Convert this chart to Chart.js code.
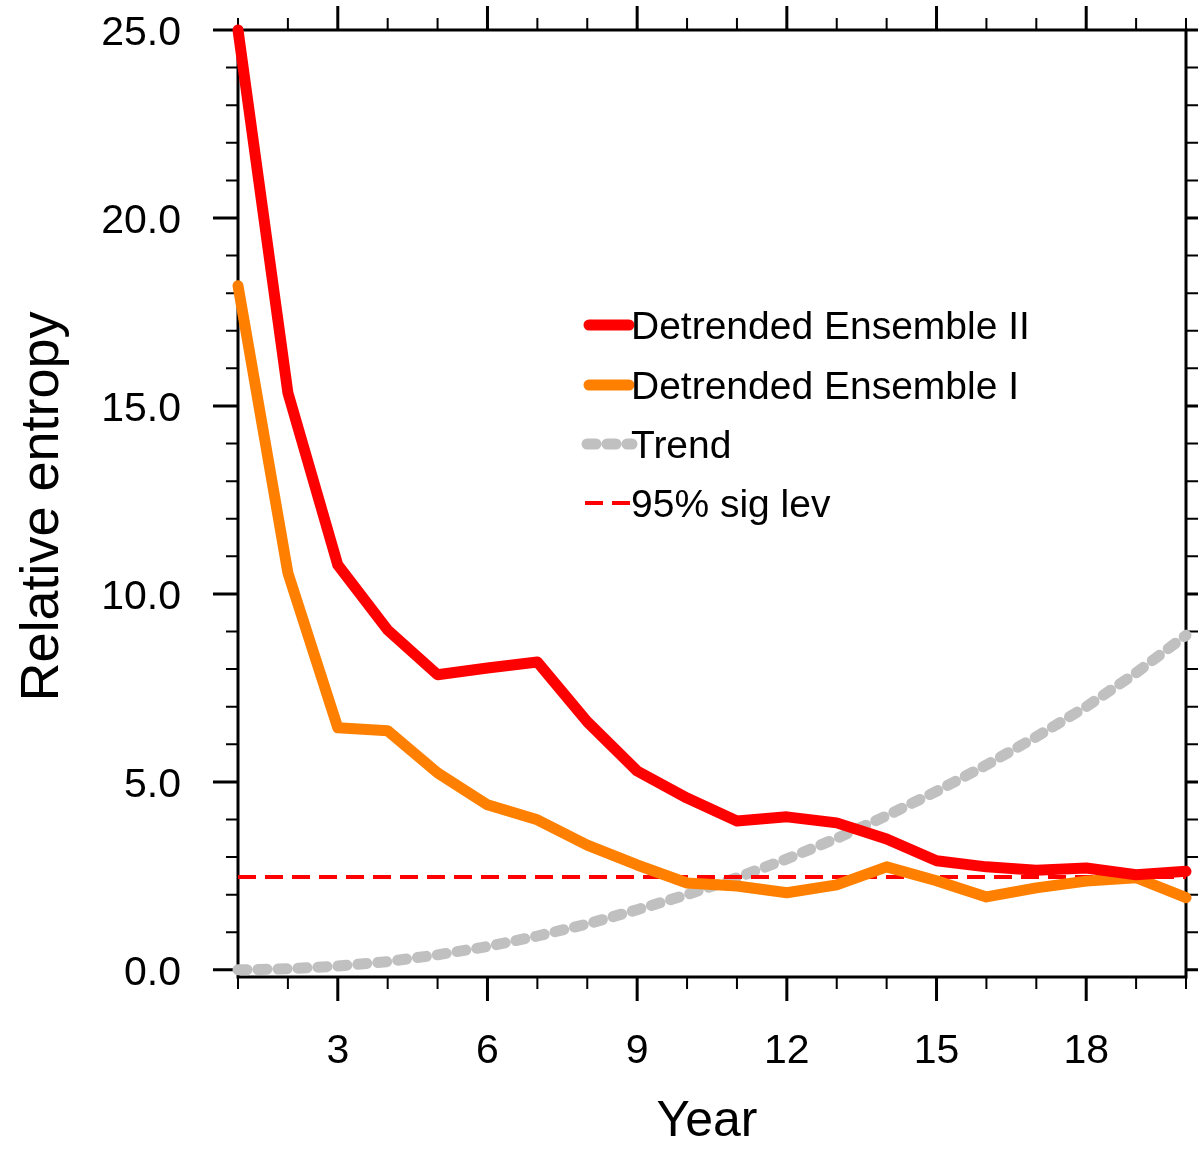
<!DOCTYPE html>
<html>
<head>
<meta charset="utf-8">
<script src="https://cdn.jsdelivr.net/npm/chart.js@4/dist/chart.umd.min.js"></script>
<style>
html,body{margin:0;padding:0;background:#ffffff;}
#wrap{width:1198px;height:1150px;position:relative;}
</style>
</head>
<body>
<div id="wrap"><canvas id="c" width="1198" height="1150"></canvas></div>
<script>
// ---- data ----
const years = [1,2,3,4,5,6,7,8,9,10,11,12,13,14,15,16,17,18,19,20];
const ensembleII = [25.0,15.35,10.77,9.04,7.85,8.03,8.19,6.6,5.29,4.57,3.96,4.07,3.91,3.48,2.9,2.74,2.65,2.71,2.53,2.62];
const ensembleI  = [18.2,10.56,6.44,6.36,5.24,4.39,3.99,3.32,2.79,2.31,2.23,2.05,2.26,2.74,2.37,1.94,2.18,2.36,2.45,1.92];
const trend      = [0.0,0.03,0.1,0.22,0.4,0.62,0.9,1.22,1.6,2.0,2.45,2.95,3.5,4.1,4.75,5.45,6.2,7.0,7.9,8.9];
const sigLevel   = 2.47;
const seriesLabels = ['Detrended Ensemble II','Detrended Ensemble I','Trend','95% sig lev'];
const xTickValues = [3,6,9,12,15,18];
const xTickLabels = ['3','6','9','12','15','18'];
const yTickValues = [0,5,10,15,20,25];
const yTickLabels = ['0.0','5.0','10.0','15.0','20.0','25.0'];
const xTitle = 'Year';
const yTitle = 'Relative entropy';

const FONT = '"Liberation Sans", Arial, Helvetica, sans-serif';

function pts(vals){ return years.map((x,i)=>({x:x, y:vals[i]})); }

const framePlugin = {
  id: 'frame',
  beforeDatasetsDraw(chart){
    const ctx = chart.ctx, a = chart.chartArea;
    const xs = chart.scales.x, ys = chart.scales.y;
    ctx.save();
    ctx.strokeStyle = '#000';
    ctx.lineCap = 'butt';
    for (let v = xs.min; v <= xs.max; v++){
      const px = xs.getPixelForValue(v);
      const major = xTickValues.includes(v);
      const len = major ? 24 : 12;
      ctx.lineWidth = major ? 3 : 2;
      ctx.beginPath();
      ctx.moveTo(px, a.top); ctx.lineTo(px, a.top - len);
      ctx.moveTo(px, a.bottom); ctx.lineTo(px, a.bottom + len);
      ctx.stroke();
    }
    for (let v = 0; v <= 25; v++){
      const py = ys.getPixelForValue(v);
      const major = yTickValues.includes(v);
      const len = major ? 25 : 12;
      ctx.lineWidth = major ? 3 : 2;
      ctx.beginPath();
      ctx.moveTo(a.left, py); ctx.lineTo(a.left - len, py);
      ctx.moveTo(a.right, py); ctx.lineTo(a.right + len, py);
      ctx.stroke();
    }
    ctx.lineWidth = 3;
    ctx.strokeRect(a.left, a.top, a.right - a.left, a.bottom - a.top);

    ctx.fillStyle = '#000';
    ctx.font = '41px ' + FONT;
    ctx.textBaseline = 'alphabetic';
    ctx.textAlign = 'right';
    yTickValues.forEach((v,i)=>{
      ctx.fillText(yTickLabels[i], 181, ys.getPixelForValue(v) + 14.8);
    });
    ctx.textAlign = 'center';
    xTickValues.forEach((v,i)=>{
      ctx.fillText(xTickLabels[i], xs.getPixelForValue(v), 1063);
    });
    ctx.font = '50px ' + FONT;
    ctx.fillText(xTitle, (a.left + a.right)/2 - 5, 1136);
    ctx.save();
    ctx.translate(58, (a.top + a.bottom)/2 + 3);
    ctx.rotate(-Math.PI/2);
    ctx.font = '54px ' + FONT;
    ctx.textAlign = 'center';
    ctx.fillText(yTitle, 0, 0);
    ctx.restore();
    ctx.restore();
  }
};

const legendPlugin = {
  id: 'customLegend',
  afterDatasetsDraw(chart){
    const ctx = chart.ctx;
    const rows = [325, 385, 444, 503];
    const ds = chart.data.datasets;
    ctx.save();
    ds.forEach((d, i)=>{
      const y = rows[i];
      ctx.strokeStyle = d.borderColor;
      ctx.lineWidth = d.borderWidth;
      ctx.lineCap = d.borderCapStyle || 'butt';
      ctx.setLineDash(d.borderDash || []);
      ctx.beginPath();
      if (i === 3){ ctx.moveTo(585, y); ctx.lineTo(632, y); }
      else if (i === 2){ ctx.moveTo(587, y); ctx.lineTo(632, y); }
      else { ctx.moveTo(589, y); ctx.lineTo(629, y); }
      ctx.stroke();
      ctx.setLineDash([]);
      ctx.fillStyle = '#000';
      ctx.font = '39px ' + FONT;
      ctx.textAlign = 'left';
      ctx.textBaseline = 'alphabetic';
      ctx.fillText(d.label, 631, y + 14);
    });
    ctx.restore();
  }
};

new Chart(document.getElementById('c'), {
  type: 'line',
  data: {
    datasets: [
      { label: seriesLabels[0], data: pts(ensembleII), borderColor: '#ff0000', borderWidth: 11,
        borderCapStyle: 'round', borderJoinStyle: 'round', pointRadius: 0, tension: 0, clip: false, order: 0 },
      { label: seriesLabels[1], data: pts(ensembleI), borderColor: '#ff8000', borderWidth: 11,
        borderCapStyle: 'round', borderJoinStyle: 'round', pointRadius: 0, tension: 0, clip: false, order: 1 },
      { label: seriesLabels[2], data: pts(trend), borderColor: '#c0c0c0', borderWidth: 11,
        borderDash: [9, 11], borderCapStyle: 'round', borderJoinStyle: 'round', pointRadius: 0, tension: 0, clip: false, order: 3 },
      { label: seriesLabels[3], data: [{x: years[0], y: sigLevel}, {x: years[years.length-1], y: sigLevel}],
        borderColor: '#ff0000', borderWidth: 4, borderDash: [18, 9], borderCapStyle: 'butt',
        pointRadius: 0, tension: 0, clip: false, order: 2 }
    ]
  },
  options: {
    responsive: false,
    animation: false,
    devicePixelRatio: 1,
    layout: { padding: { left: 238, right: 12, top: 30, bottom: 173 } },
    plugins: { legend: { display: false }, tooltip: { enabled: false }, title: { display: false } },
    scales: {
      x: { type: 'linear', min: 1, max: 20, display: false },
      y: { type: 'linear', min: -0.19, max: 25, display: false }
    }
  },
  plugins: [framePlugin, legendPlugin]
});
</script>
</body>
</html>
